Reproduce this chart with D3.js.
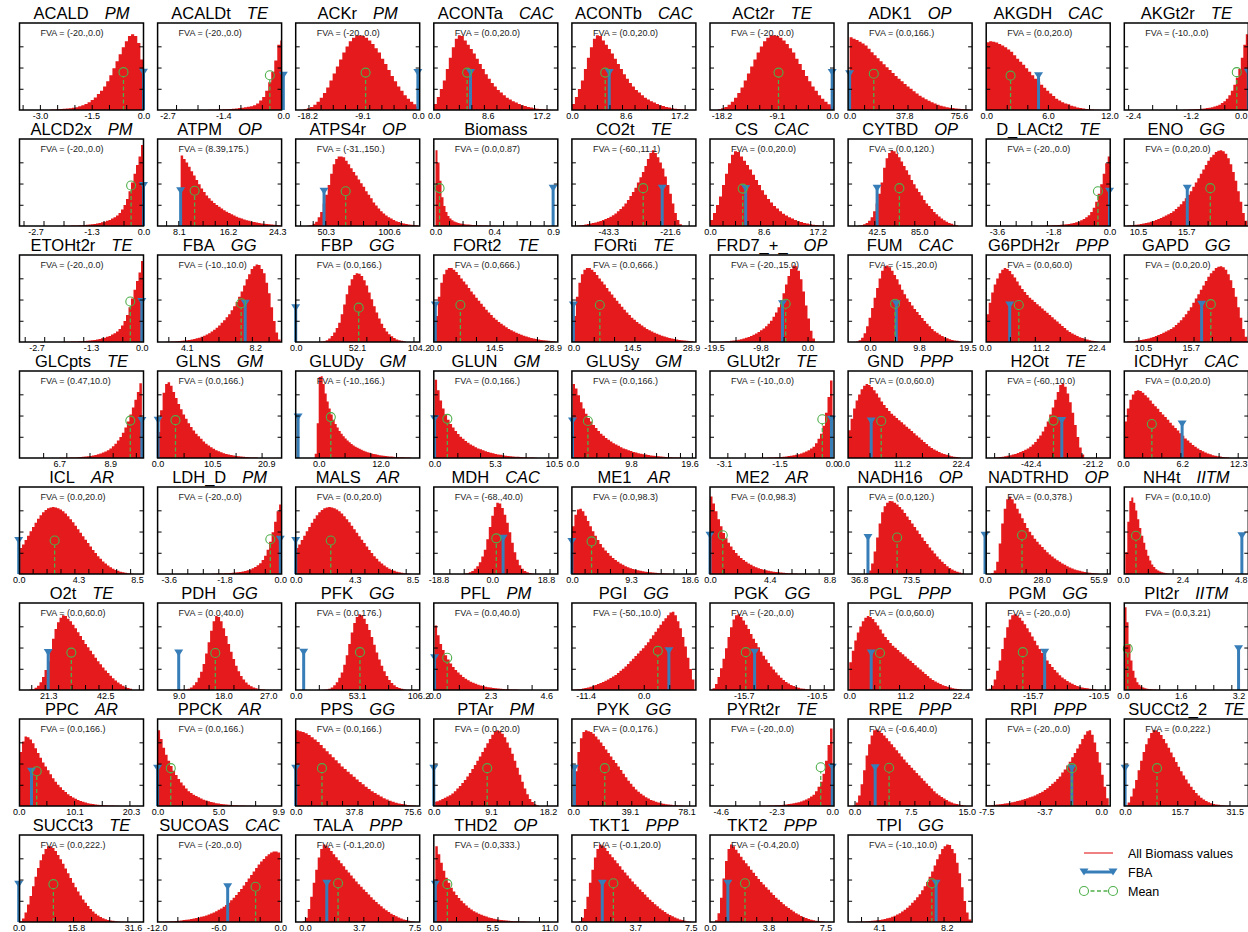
<!DOCTYPE html>
<html><head><meta charset="utf-8">
<script src="https://cdn.jsdelivr.net/npm/d3@7"></script>
<style>
body{margin:0;background:#fff}
svg{display:block;font-family:"Liberation Sans",Arial,Helvetica,sans-serif}
</style>
</head><body>
<script>
// Reaction names and subsystem tags, in panel order (9 per row)
const names = ["ACALD","ACALDt","ACKr","ACONTa","ACONTb","ACt2r","ADK1","AKGDH","AKGt2r",
  "ALCD2x","ATPM","ATPS4r","Biomass","CO2t","CS","CYTBD","D_LACt2","ENO",
  "ETOHt2r","FBA","FBP","FORt2","FORti","FRD7_+_","FUM","G6PDH2r","GAPD",
  "GLCpts","GLNS","GLUDy","GLUN","GLUSy","GLUt2r","GND","H2Ot","ICDHyr",
  "ICL","LDH_D","MALS","MDH","ME1","ME2","NADH16","NADTRHD","NH4t",
  "O2t","PDH","PFK","PFL","PGI","PGK","PGL","PGM","PIt2r",
  "PPC","PPCK","PPS","PTAr","PYK","PYRt2r","RPE","RPI","SUCCt2_2",
  "SUCCt3","SUCOAS","TALA","THD2","TKT1","TKT2","TPI"];
const cats = ["PM","TE","PM","CAC","CAC","TE","OP","CAC","TE",
  "PM","OP","OP","","TE","CAC","OP","TE","GG",
  "TE","GG","GG","TE","TE","OP","CAC","PPP","GG",
  "TE","GM","GM","GM","GM","TE","PPP","TE","CAC",
  "AR","PM","AR","CAC","AR","AR","OP","OP","IITM",
  "TE","GG","GG","PM","GG","GG","PPP","GG","IITM",
  "AR","AR","GG","PM","GG","TE","PPP","PPP","TE",
  "TE","CAC","PPP","OP","PPP","PPP","GG"];
const fvaText = ["(-20.,0.0)","(-20.,0.0)","(-20.,0.0)","(0.0,20.0)","(0.0,20.0)","(-20.,0.0)","(0.0,166.)","(0.0,20.0)","(-10.,0.0)",
  "(-20.,0.0)","(8.39,175.)","(-31.,150.)","(0.0,0.87)","(-60.,11.1)","(0.0,20.0)","(0.0,120.)","(-20.,0.0)","(0.0,20.0)",
  "(-20.,0.0)","(-10.,10.0)","(0.0,166.)","(0.0,666.)","(0.0,666.)","(-20.,15.0)","(-15.,20.0)","(0.0,60.0)","(0.0,20.0)",
  "(0.47,10.0)","(0.0,166.)","(-10.,166.)","(0.0,166.)","(0.0,166.)","(-10.,0.0)","(0.0,60.0)","(-60.,10.0)","(0.0,20.0)",
  "(0.0,20.0)","(-20.,0.0)","(0.0,20.0)","(-68.,40.0)","(0.0,98.3)","(0.0,98.3)","(0.0,120.)","(0.0,378.)","(0.0,10.0)",
  "(0.0,60.0)","(0.0,40.0)","(0.0,176.)","(0.0,40.0)","(-50.,10.0)","(-20.,0.0)","(0.0,60.0)","(-20.,0.0)","(0.0,3.21)",
  "(0.0,166.)","(0.0,166.)","(0.0,166.)","(0.0,20.0)","(0.0,176.)","(-20.,0.0)","(-0.6,40.0)","(-20.,0.0)","(0.0,222.)",
  "(0.0,222.)","(-20.,0.0)","(-0.1,20.0)","(0.0,333.)","(-0.1,20.0)","(-0.4,20.0)","(-10.,10.0)"];

// x-axis extent of each panel
const xDomains = [[-3.59,0],[-2.93,-0.04],[-20.1,0.3],[0,19.8],[0,19.8],[-20.1,0.3],[-1.04,84.6],[0,12.06],[-2.58,0],
  [-3.1,0],[4.6,25.0],[26.5,125.0],[-0.0126,0.9046],[-56.07,-12.45],[0,19.8],[13.8,137.8],[-3.942,0.022],[9.03,22.38],
  [-3.133,0.043],[2.357,9.78],[0,105.3],[-0.37,30.13],[-0.37,30.13],[-20.31,5.5],[-4.376,20.4],[0.24,25.14],[8.465,21.96],
  [4.98,10.33],[0,23.85],[-4.485,19.59],[-0.07,10.83],[-0.1,20.67],[-3.5,0.073],[0.915,24.56],[-57.73,-15.12],[0.126,13.11],
  [0.057,8.96],[-3.958,0.042],[0,9.02],[-20.44,22.89],[0,19.55],[0,9.13],[28.95,116.6],[0.59,61.67],[0.0485,5.06],
  [10.63,56.74],[4.76,29.67],[0,107.3],[-0.033,5.08],[-14.08,10.21],[-18.11,-9.27],[-0.24,24.67],[-19.39,-9.57],[0.033,3.47],
  [0.144,22.54],[0,10.17],[0,80.26],[0,19.74],[-0.97,84.6],[-5.04,0.07],[-0.855,15.71],[-7.5,0.578],[-0.23,35.41],
  [0.22,34.47],[-11.92,0.13],[-0.63,7.86],[-0.145,11.82],[-0.63,7.86],[0,8.05],[2.216,9.73]];

// labelled x ticks of each panel
const xTickVals = [[-3.0,-1.5,0],[-2.7,-1.4,0],[-18.2,-9.1,0],[0,8.6,17.2],[0,8.6,17.2],[-18.2,-9.1,0],[0,37.8,75.6],[0,6.0,12.0],[-2.4,-1.2,0],
  [-2.7,-1.3,0],[8.1,16.2,24.3],[50.3,100.6],[0,0.435,0.87],[-43.3,-21.6],[0,8.6,17.2],[42.5,85.0],[-3.6,-1.8,0],[10.5,15.7],
  [-2.7,-1.3,0],[4.1,8.2],[0,52.1,104.2],[0,14.5,28.9],[0,14.5,28.9],[-19.5,-9.8,0],[0,9.8,19.5],[0,11.2,22.4],[10.5,15.7],
  [6.7,8.9],[0,10.5,20.9],[0,12.0],[0,5.3,10.5],[0,9.8,19.6],[-3.1,-1.5,0],[0,11.2,22.4],[-42.4,-21.2],[0,6.2,12.3],
  [0,4.3,8.5],[-3.6,-1.8,0],[0,4.3,8.5],[-18.8,0,18.8],[0,9.3,18.6],[0,4.4,8.8],[36.8,73.5],[0,28.0,55.9],[0,2.4,4.8],
  [21.3,42.5],[9.0,18.0,27.0],[0,53.1,106.2],[0,2.3,4.6],[-11.4,0],[-15.7,-10.5],[0,11.2,22.4],[-15.7,-10.5],[0,1.6,3.2],
  [0,10.1,20.3],[0,5.0,9.9],[0,37.8,75.6],[0,9.1,18.2],[0,39.1,78.1],[-4.6,-2.3,0],[0,7.5,15.0],[-7.5,-3.7,0],[0,15.7,31.5],
  [0,15.8,31.6],[-12.0,-6.0,0],[0,3.7,7.5],[0,5.5,11.0],[0,3.7,7.5],[0,3.8,7.5],[4.1,8.2]];

// histogram extent (first bin start, last bin end) of each panel
const histRanges = [[-2.7,0],[-1.76,0],[-18.8,0.3],[0,18.69],[0,18.69],[-18.8,0.3],[0,82.9],[0,11.09],[-1.35,0],
  [-2.0,0],[8.39,24.84],[36.0,123.4],[0,0.444],[-54.31,-17.38],[0,18.69],[23.8,123.8],[-2.216,0.022],[9.35,22.27],
  [-2.006,0.043],[2.836,9.72],[21.2,93.4],[0,29.5],[0,29.5],[-18.23,1.54],[-2.78,18.2],[0.24,22.83],[8.79,21.85],
  [6.70,10.26],[0,19.23],[-0.796,17.85],[0,9.0],[0,18.4],[-2.06,0.03],[0.915,22.36],[-54.98,-24.05],[0.13,11.12],
  [0.06,8.31],[-2.216,0.042],[0,8.37],[-9.96,14.5],[0,15.77],[0,7.0],[41.68,110.63],[3.05,56.01],[0.089,1.949],
  [14.35,52.47],[9.78,26.36],[23.81,95.24],[0,3.51],[-14.08,9.92],[-18.11,-10.98],[0,22.6],[-19.39,-10.68],[0.04,1.03],
  [0.15,18.2],[0,7.79],[0,77.67],[0,16.72],[1.1,77.0],[-2.98,0.01],[-0.187,14.84],[-7.5,0.48],[0,30.18],
  [0.22,29.23],[-11.92,-0.015],[-0.15,7.55],[0,9.17],[-0.15,7.55],[0.325,7.47],[2.7,9.67]];

// bin heights (percent of panel height); identical flux pairs share one array
const ackrBins = [1,2,3.5,6,9.5,14,19.5,26,34,42,50,58,66,73,79,83,85.5,86,85,83,80,76,71,66,59,53,46,39,33,27,22,17,13,9.5,6.5,4];
const acontBins = [7,15,24,34,47,60,72,82,86,85,80,75,70,65,59,53,47,41,36,31,27,23,20,17,14,12,10,8.5,7,5.5,4.5,3.5,3,2,1.5,1.2,1,0.6,0.4];
const alcdBins = [0.3,0.3,0.4,0.5,0.6,0.7,0.8,1,1.2,1.4,1.7,2,2.4,2.9,3.5,4.2,5,6,7,8.5,10,12,15,19,24,31,40,50,60,70,80,93];
const dlacBins = [0.3,0.4,0.5,0.6,0.7,0.8,1,1.2,1.4,1.7,2,2.4,2.9,3.5,4.3,5.3,6.5,8,10,12.5,16,21,28,37,48,60,72,80];
const enoBins = [0.5,0.8,1,1.3,1.7,2.2,2.8,3.4,4,4.8,5.7,6.8,8,9.3,10.5,12,13.5,15,17,19.5,22,25,28.5,32,36,40,45,50,55,60,65,70,75,79,82,85,86.5,87,86,83,78,71,62,52,40,28,15,6];
const fbaBins = [0.3,0.4,0.5,0.7,0.9,1.1,1.4,1.7,2,2.4,2.9,3.5,4.2,5,6,7.2,8.6,10,12,14,16.5,19,22,25,28.5,32,36.5,41,46,52,58,65,72,78,84,87,89,88.5,84,79,68,56,40,24,11,3];
const fortBins = [30,52,68,78,83,85,85,83,80.5,77,73,69.5,66,62,58,54.5,51,47.5,44,40.5,37,34,31,28,25.5,23,21,19,17,15,13.5,12,10.5,9.5,8.3,7.2,6.2,5.4,4.7,4,3.4,2.9,2.4,2,1.7,1.4,1.1,0.9];
const g6pBins = [32,45,57,66,73,79,83,85,84,81.5,78,74,69.5,65,61,57.5,54,51,48.5,46,43.5,41,38.5,36,33.5,31,28.5,26,23.5,21,18.5,16,13.5,11.5,9.8,8.2,6.8,5.6,4.5,3.6,2.8,2.1,1.5,1.1,0.7];
const gluBins = [0.3,0.35,0.4,0.5,0.6,0.7,0.8,1,1.2,1.5,1.8,2.2,2.6,3.1,3.7,4.4,5.3,6.3,7.5,9,11,13,17,22,28,37,52,70,89];
const iclBins = [30,34,39,44,49,54,59,63.5,67.5,71,73.5,75.5,76.5,77,76.5,75.5,74,72,69.5,66.5,63,59.5,55.5,51.5,47.5,43.5,39.5,35.5,31.5,27.5,24,20.5,17.5,14.5,12,9.8,7.8,6.1,4.7,3.6,2.7,2,1.4,1,0.7,0.4];
const succBins = [0.5,4,11,20,30,41,52,62,71,78,84,87,87,85,81.5,77,72,67,61.5,56,50.5,45,40,35,30.5,26,22,18.5,15,12,9.5,7.5,5.8,4.4,3.3,2.4,1.8,1.3,0.9,0.6,0.4,0.3];
const talaBins = [1,5,15,29,45,60,74,84,89,88,85,81.5,78,74.5,71,67.5,64,60,57,53.5,50,46.5,43.5,40.5,37.5,34.5,31.5,28.5,25.5,23,20.5,18,15.5,13.5,11.5,9.5,8,6.5,5.2,4,3,2.2,1.5,1,0.6];

const histBins = [
  [0.5,0.7,0.9,1.1,1.4,1.7,2.1,2.6,3.2,4.2,5.5,7,9,11.5,14.5,18.5,22,27,33,40,48,56,64,72,79,85,87,85,77,58],
  [0.3,0.35,0.4,0.5,0.6,0.8,1,1.2,1.5,1.8,2.2,2.6,3.1,3.7,4.4,5.5,7.5,11,15,22,32,44,57,75,80],
  ackrBins, acontBins, acontBins, ackrBins,
  [83.5,82,80.5,78.5,76.5,74,70.5,66.5,63,59.5,56,52.5,49,46,42.5,39,36,33,30,27,24.5,21.5,19,16.5,14.5,12.5,10.5,9,7.5,6,5,4,3.2,2.7,2.2,1.8,1.5,1.2,1,0.7],
  [78,79,78.5,77.5,76,74,72,69.5,67,63,59,55.5,52,48,44,40,36,32.5,29,25.5,22,19,16,13,11,9,7.5,6.5,5,4,3,2.3,1.7,1.2,0.9,0.6,0.4,0.3],
  [0.3,0.4,0.5,0.6,0.8,1,1.2,1.5,1.8,2.2,2.7,3.3,4,5,6,8,10,13,17,22,29,37,47,60,75,87],
  alcdBins,
  [81,77,73,68,63,58,53,48,43,39,35,32,29,26.5,24,22,20,18,16.5,15,13.5,12,10.5,9.5,8.5,7.5,6.5,6,5,4.5,4,3.5,3,2.6,2.3,2,1.7,1.4,1.2,1],
  [0.5,1,2.5,5,10,16,26,36,47,60,71,77,80,80,79,75,71,66.5,62,58,53.5,49,45,40,36,32,27,23.5,20,17,14.5,12,10,8.5,7,5.5,4.5,3.5,3,2.3,1.8,1.4,1.1,0.8],
  [87,73,52,33,23,16,11.5,8.5,6.5,5.2,4.3,3.5,2.9,2.5,2.1,1.8,1.6,1.4,1.2,1.1,1,0.9,0.8,0.7,0.6,0.5,0.4,0.3,0.3,0.2],
  [0.5,0.8,1.2,1.6,2.2,2.8,3.4,4,4.8,5.7,6.8,8,9.3,10.7,12.5,14.5,17,19.5,22.5,26,30,34.5,39,44,50,56,62,69,77,84,87,84,79,73,66,57,47,37,26,15,7,2],
  acontBins,
  [0.5,1,2,3.5,6,10,17,26,37,50,67,78,84,87,86,83,79,74,69,64,59,53,48,43,39,35,30,26,23,19.5,16,13.5,11,8.5,6.5,5,3.5,2.5,1.5,1],
  dlacBins, enoBins,
  alcdBins, fbaBins,
  [0.5,1,2,4,7,11,16,22,32,43,55,65,72,77,79,78.5,76,71,65,57,49,41,34,27,21,16,12,9,6.5,4.5,3,2,1.3,0.8],
  fortBins, fortBins,
  [0.3,0.5,0.8,1,1.3,1.7,2.1,2.6,3.2,4,4.8,5.8,7,8.3,9.8,11.5,13.5,15.5,18,21,24.5,29,34,40,48,56,66,76,84,88,87,82,72,58,42,27,13,4],
  [0.5,2,5,10,18,28,39,51,62,73,82,87,88,86,82,77,72,66,60,55,50,46,42,38,34.5,31,27.5,24,21,18,15,12.5,10.5,8.5,6.8,5.4,4.2,3.2,2.4,1.8,1.3,0.9],
  g6pBins, enoBins,
  [0.2,0.3,0.3,0.4,0.5,0.6,0.7,0.9,1.1,1.3,1.6,2,2.4,2.9,3.5,4.3,5.2,6.3,7.6,9,11,13.5,16.5,20,24,29,35,42,50,58,67,76,86],
  [30,55,75,85,87,83,76,69,62,56,50,45,40,35.5,31.5,28,25,22,19,16.5,14.5,12.5,10.5,9,7.8,6.6,5.6,4.7,4,3.4,2.8,2.3,1.9,1.6,1.3,1.1,0.9,0.7,0.6,0.5],
  [5,40,93,94,85,74,65,57,50,44,39,35,31,28,25,22.5,20,18,16,14.5,13,11.7,10.5,9.4,8.4,7.5,6.7,6,5.3,4.7,4.2,3.7,3.3,2.9,2.6,2.3,2,1.8,1.6,1.4,1.2,1.1,1,0.9,0.8,0.7,0.6,0.5],
  [90,78,66,57,50,44,39,35,31,27.5,24.5,22,19.5,17.5,15.5,14,12.5,11,10,8.8,7.8,6.9,6.1,5.4,4.7,4.1,3.6,3.1,2.7,2.3,2,1.7,1.5,1.3,1.1,0.9,0.8,0.7,0.6,0.5,0.4],
  [85,80,72,64,57,51,46,42,38,34.5,31,28,25.5,23,21,19,17,15.5,14,12.5,11,10,9,8,7,6.3,5.6,5,4.4,3.9,3.4,3,2.6,2.2,1.9,1.6,1.4,1.2,1,0.8,0.7,0.6,0.5,0.4],
  gluBins, g6pBins,
  [0.5,0.8,1.1,1.5,2,2.6,3.2,3.9,4.7,5.7,6.8,8,9.4,11,13,15.5,18.5,22,26,30.5,36,42,50,58,67,76,84,86,82,74,64,52,38,24,12,4],
  [42,57,67,73,77,78,77,75,72,69.5,66,62.5,59.5,56.5,53,50,47,44,40.5,37.5,34.5,31.5,28.5,25.5,22.5,20,17.5,15,12.8,11,9.3,7.8,6.4,5.2,4.2,3.3,2.6,2,1.6,1.2,0.9,0.6],
  iclBins, dlacBins, iclBins,
  [0.5,1,2,3.5,6,9,13.5,20,28,40,54,67,77,82,81,76,68,59,48,36,25,16.5,10,6,3.5,2,1.2,0.6],
  [55,68,74,75,72,67,61,55,49,44,39,34.5,30.5,27,24,21,18.5,16,14,12,10.5,9,7.8,6.7,5.8,5,4.3,3.7,3.1,2.6,2.2,1.9,1.6,1.3,1.1,0.9,0.8,0.6,0.5,0.4],
  [89,81,72,63,55,47,41,36,31.5,27.5,24,21,18.5,16,14,12,10.5,9,7.8,6.7,5.8,5,4.3,3.7,3.1,2.6,2.2,1.9,1.6,1.3,1.1,0.9,0.8,0.6,0.5,0.4,0.3,0.3],
  [1,4,12,26,42,58,71,78,82,84,83.5,82,80,77,74,70,66,62,58,54,50,46,42,38,34.5,30.5,27,23.5,20,17,14,11.5,9,7,5.3,3.8,2.6,1.7,1],
  [1,4,14,35,58,75,86,89,86,81,75,69.5,64,58.5,53,48.5,44.5,40.5,37,34,31,28,25,22.5,20,17.8,15.8,14,12.2,10.5,9,7.6,6.4,5.3,4.4,3.6,2.9,2.3,1.8,1.4,1.1,0.8,0.6],
  [25,60,84,88,82,73,63,53,44,36,28,21,15.5,11,8,5.5,4,2.8,2,1.4,1,0.6,0.4],
  [0.5,1,2.5,5,9,15,23,33,46,59,70,78,83,86,85,82,79,75,71,66.5,62,57.5,53,49,45,41,37,33,29.5,26,22.5,19.5,16.5,13.5,11,8.5,6.5,4.8,3.3,2.2,1.3],
  [0.3,0.7,1.5,3,5.5,9,14,21,30,42,55,68,79,85,84,79,71,62,53,44,35.5,28,21.5,16,12,8.5,6,4.2,2.8,1.9,1.2,0.8,0.5],
  [0.3,0.7,1.5,3,5.5,9,14,20,29,40,53,66,77,84,87,86,82,76,69,61,52,43,35,28,21.5,16,11.5,8,5.5,3.5,2.2,1.3,0.7],
  [74,63,53,46,40,35,30.5,26.5,23,20,17.5,15,13,11.2,9.6,8.3,7.1,6.1,5.2,4.5,3.8,3.3,2.8,2.4,2,1.7,1.4,1.2,1,0.8,0.7,0.6,0.5,0.4],
  [0.3,0.5,0.8,1.2,1.7,2.3,3,3.8,4.7,5.7,6.8,8,9.3,10.7,12.2,13.8,15.5,17.3,19.5,22,24.5,27,30,33,36,39,42,45,48,51.5,55,59,63,67,71,75,79,82.5,86,89,90,86,79,71,61,50,37,24,12],
  [0.5,2,7,15,25,36,48,61,72,81,86,87,84,80,75,70,64.5,59,54,49,44,39.5,35,31,27,23.5,20,17,14,11.5,9.3,7.4,5.8,4.5,3.4,2.5,1.8,1.3,0.9,0.6],
  g6pBins,
  [0.3,1.5,5,12,22,34,47,60,72,81,86,87,85.5,83,79.5,75.5,71,66.5,61.5,56.5,51.5,47,42.5,38,34,30,26.5,23,20,17,14.5,12.3,10.3,8.6,7.1,5.8,4.7,3.8,3,2.4,1.9,1.5,1.1,0.8],
  [95,78,53,34,22,14,9,6,4,2.8,2,1.5,1.1,0.8,0.6,0.5,0.4,0.3],
  [62,74,80,79,76.5,72,66.5,61,55.5,50,45.5,41,36.5,32,28,24.5,21.5,18.5,16,13.5,11.5,9.7,8.2,6.9,5.8,4.8,4,3.3,2.7,2.2,1.8,1.5,1.2,1,0.8,0.7,0.6,0.5,0.4,0.3],
  [87,77,67,59,52,46,40.5,35.5,31,27,23.5,20,17,15,13,11.5,10,8.5,7.3,6.3,5.4,4.6,3.9,3.3,2.8,2.3,1.9,1.6,1.3,1.1,0.9,0.8,0.7,0.6,0.5,0.4,0.35,0.3],
  [87,86,85,83.5,81.5,79,76.5,73.5,70,66.5,63,59.5,56,52.5,49,45.5,42.5,39.5,36.5,33.5,30.5,27.5,25,22,19.5,17,15,13,11,9,7.5,6,4.8,3.8,3,2.3,1.7,1.2,0.8,0.5],
  [5,5.5,6.5,8,9.5,11,12.5,14.5,17,20,23,26.5,30,34,38,42.5,47,52,57,62,67,72,77,82,86,87,86,83,79,73,67,60,52,44,36,28,20,13.5,8,4.5,2,0.8],
  [40,62,78,85,87,86,85,83,80,76.5,73,69,65,61,57,53,49.5,45.5,41.5,37,33,29,25.5,22,19,16.5,14,12,10,8.5,7,6,5,4,3.2,2.6,2,1.6,1.3,1,0.8,0.6,0.5,0.4],
  gluBins,
  [0.5,4,12,25,41,58,71,81,87,88,86.5,84,81,78,74.5,71,67.5,64,60.5,57,53.5,50,47,44,41,38,35,32,29,26,23,20,17,14.5,12.3,10.3,8.5,6.8,5.3,4,3,2.2,1.6,1.1,0.7],
  [0.5,0.7,1,1.3,1.6,2,2.4,2.8,3.2,3.7,4.3,5,5.7,6.4,7.2,8,9,10,11,12.2,13.5,15,16.5,18.5,20.5,23,25.5,28,31,34,38.5,42,46.5,51,56,61,66,71,77,82,86,87,82,73,62,50,36,22,9],
  succBins,
  succBins,
  [0.2,0.3,0.4,0.5,0.6,0.8,1,1.2,1.5,1.8,2.2,2.6,3,3.5,4,4.6,5.2,5.9,6.7,7.6,8.6,9.8,11,12.5,14,15.5,17.5,19.5,22,25,28,31,34.5,38,42,46,50,54,58,62,66,69.5,72.5,75.5,78,80,81,81,80],
  talaBins,
  [87,78,68,59,51,45,39.5,35,31,27.5,24.5,21.5,19,16.5,14.5,12.5,11,9.6,8.3,7.2,6.2,5.3,4.5,3.8,3.2,2.7,2.3,1.9,1.6,1.3,1.1,0.9,0.8,0.7,0.6,0.5,0.4,0.3],
  talaBins,
  [2,10,28,50,70,84,89,87,83,79,75,71,67.5,64,60,56.5,53,49.5,46,43,40,37,34,31,28,25.5,23,20.5,18,16,14,12,10,8.5,7,5.6,4.5,3.5,2.7,2,1.5,1.1,0.8,0.5],
  fbaBins
];

// FBA flux and sample mean of each reaction
const fbaVals = [0,0,0,5.86,5.96,0,0,5.09,0,
  0,8.39,49.0,0.87,-24.3,5.7,42.8,0,15.81,
  0,7.6,0,0,0,-5.22,5.25,4.96,16.88,
  10.26,0.1,-4.02,0,0,0,5.32,-31.75,6.18,
  0,0,0,3.77,0,0,43.0,0,4.8,
  21.3,9.0,6.9,0,4.92,-14.93,4.4,-14.76,3.2,
  2.31,0,0,0,0.76,0,2.76,-1.92,0,
  0,-5.11,1.5,0,1.45,1.16,7.55];
const meanVals = [-0.58,-0.314,-8.6,5.32,5.32,-8.83,16.7,2.37,-0.24,
  -0.31,10.69,66.2,0.03,-30.99,5.22,65.1,-0.37,18.29,
  -0.295,7.36,53.5,6.17,6.5,-4.56,5.01,6.79,17.88,
  9.76,3.44,2.33,1.12,2.58,-0.264,7.23,-34.6,3.01,
  2.58,-0.323,2.55,1.40,3.1,0.94,63.6,18.23,0.52,
  29.9,16.35,55.6,0.52,2.75,-15.56,6.17,-16.49,0.13,
  3.25,1.08,17.0,8.5,21.7,-0.477,4.62,-1.92,9.17,
  9.58,-2.40,2.27,1.16,2.21,2.27,7.29];

const yTickVals = [24.4, 48.8, 73.2];

const W = 1248, H = 932, PW = 124, PH = 87, COLS = 9;
const RED = '#e41a1c', BLUE = '#377eb8', GREEN = '#4daf4a';

const svg = d3.select('body').append('svg').attr('width', W).attr('height', H);
svg.append('rect').attr('width', W).attr('height', H).attr('fill', '#fff');

const ys = d3.scaleLinear().domain([0, 100]).range([PH, 0]);
const fmt = v => (Math.abs(v) < 1e-9 ? 0 : v).toFixed(1);

function fbaMarker(g, x, y) {
  g.append('path')
    .attr('d', `M${x - 4.5},${y - 3.5}L${x + 4.5},${y - 3.5}L${x},${y + 3.5}Z`)
    .attr('fill', BLUE);
}

names.forEach((name, i) => {
  const r = Math.floor(i / COLS), c = i % COLS;
  const x0 = 19.5 + 138.1 * c, y0 = 110 + 116 * r - PH;
  const g = svg.append('g').attr('transform', `translate(${x0},${y0})`);
  const xs = d3.scaleLinear().domain(xDomains[i]).range([0, PW]);

  const clipId = 'clip' + i;
  g.append('clipPath').attr('id', clipId)
    .append('rect').attr('width', PW).attr('height', PH);

  // histogram of sampled fluxes
  const bins = histBins[i];
  const [h0, h1] = histRanges[i];
  const step = (h1 - h0) / bins.length;
  const pts = bins.map((b, k) => [h0 + k * step, b]);
  pts.push([h1, bins[bins.length - 1]]);
  const area = d3.area()
    .x(d => xs(d[0])).y0(ys(0)).y1(d => ys(d[1]))
    .curve(d3.curveStepAfter);
  g.append('path').attr('clip-path', `url(#${clipId})`)
    .attr('fill', RED).attr('d', area(pts));

  const level = d3.max(bins) / 2;

  // FBA solution
  const fx = xs(fbaVals[i]);
  g.append('line').attr('x1', fx).attr('x2', fx)
    .attr('y1', ys(0)).attr('y2', ys(level))
    .attr('stroke', BLUE).attr('stroke-width', 3);
  fbaMarker(g, fx, ys(level));

  // sample mean
  const mx = xs(meanVals[i]);
  g.append('line').attr('x1', mx).attr('x2', mx)
    .attr('y1', ys(0)).attr('y2', ys(level) + 4.5)
    .attr('stroke', GREEN).attr('stroke-width', 1.3)
    .attr('stroke-dasharray', '4,2.5');
  g.append('circle').attr('cx', mx).attr('cy', ys(level)).attr('r', 4.5)
    .attr('fill', 'none').attr('stroke', GREEN).attr('stroke-width', 1.1);

  // inward ticks
  const minor = g.append('g').attr('transform', `translate(0,${PH})`)
    .call(d3.axisBottom(xs).ticks(7).tickSize(-5).tickFormat(''));
  const left = g.append('g')
    .call(d3.axisLeft(ys).tickValues(yTickVals).tickSize(-4).tickFormat(''));
  const right = g.append('g').attr('transform', `translate(${PW},0)`)
    .call(d3.axisRight(ys).tickValues(yTickVals).tickSize(-4).tickFormat(''));
  [minor, left, right].forEach(a => {
    a.select('.domain').remove();
    a.selectAll('line').attr('stroke', '#000').attr('stroke-width', 1);
  });
  minor.selectAll('.tick').filter(d => xs(d) < 3 || xs(d) > PW - 3).remove();

  // labelled x ticks
  const lab = g.append('g').attr('transform', `translate(0,${PH})`)
    .call(d3.axisBottom(xs).tickValues(xTickVals[i]).tickSize(0).tickPadding(3).tickFormat(fmt));
  lab.select('.domain').remove();
  lab.selectAll('text').attr('font-size', 9)
    .attr('font-family', '"Liberation Sans",Arial,sans-serif').attr('fill', '#000');
  // keep labels at the page's right edge fully on the page
  lab.selectAll('text').each(function () {
    const b = this.getBBox();
    const tr = this.parentNode.transform.baseVal.consolidate();
    const right = x0 + (tr ? tr.matrix.e : 0) + b.x + b.width;
    if (right > W - 0.5) d3.select(this).attr('x', -(right - (W - 0.5)));
  });

  // frame
  g.append('rect').attr('width', PW).attr('height', PH)
    .attr('fill', 'none').attr('stroke', '#000').attr('stroke-width', 1.5);

  // title
  const t = g.append('text').attr('x', PW / 2).attr('y', -4.5)
    .attr('text-anchor', 'middle').attr('font-size', 16.5).attr('fill', '#000');
  t.append('tspan').text(name);
  if (cats[i]) t.append('tspan').attr('dx', 16).attr('font-style', 'italic').text(cats[i]);

  // FVA range
  g.append('text').attr('x', 21).attr('y', 13).attr('font-size', 9)
    .attr('fill', '#222').text('FVA = ' + fvaText[i]);
});

// legend
const leg = svg.append('g').attr('font-size', 12.5);
const lx1 = 1084, lx2 = 1113, tx = 1128;
leg.append('line').attr('x1', lx1).attr('x2', lx2).attr('y1', 853).attr('y2', 853)
  .attr('stroke', RED).attr('stroke-opacity', 0.55).attr('stroke-width', 2);
leg.append('text').attr('x', tx).attr('y', 857.5).text('All Biomass values');
leg.append('line').attr('x1', lx1).attr('x2', lx2).attr('y1', 872).attr('y2', 872)
  .attr('stroke', BLUE).attr('stroke-width', 3);
fbaMarker(leg, lx1, 872);
fbaMarker(leg, lx2, 872);
leg.append('text').attr('x', tx).attr('y', 876.5).text('FBA');
leg.append('line').attr('x1', lx1).attr('x2', lx2).attr('y1', 891).attr('y2', 891)
  .attr('stroke', GREEN).attr('stroke-width', 1.3).attr('stroke-dasharray', '4,2.5');
[lx1, lx2].forEach(x => leg.append('circle').attr('cx', x).attr('cy', 891).attr('r', 4.5)
  .attr('fill', '#fff').attr('stroke', GREEN).attr('stroke-width', 1.1));
leg.append('text').attr('x', tx).attr('y', 895.5).text('Mean');
</script>
</body></html>
